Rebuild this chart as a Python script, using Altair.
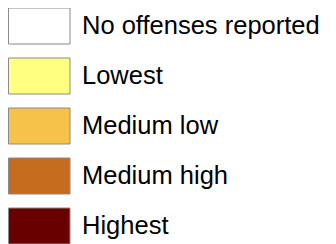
import altair as alt
import pandas as pd

labels = ["No offenses reported", "Lowest", "Medium low", "Medium high", "Highest"]
colors = ["#FFFFFF", "#FFFF80", "#F7C24A", "#C56C1E", "#680000"]

df = pd.DataFrame({"label": labels, "color": colors})

y = alt.Y("label:N", sort=labels, axis=None,
          scale=alt.Scale(paddingInner=0.28, paddingOuter=0))

swatches = alt.Chart(df).mark_rect(stroke="#8A8A8A", strokeWidth=1).encode(
    y=y,
    x=alt.value(0.5),
    x2=alt.value(62),
    color=alt.Color("color:N", scale=None),
)

texts = alt.Chart(df).mark_text(
    align="left", baseline="middle", fontSize=25.5, font="Liberation Sans", color="#000000"
).encode(
    y=y,
    x=alt.value(74),
    text="label:N",
)

chart = (swatches + texts).properties(
    width=320, height=236, autosize=alt.AutoSizeParams(type="none"), padding=0
).configure_view(stroke=None)

chart.save("out.html", embed_options={"renderer": "svg", "actions": False})
